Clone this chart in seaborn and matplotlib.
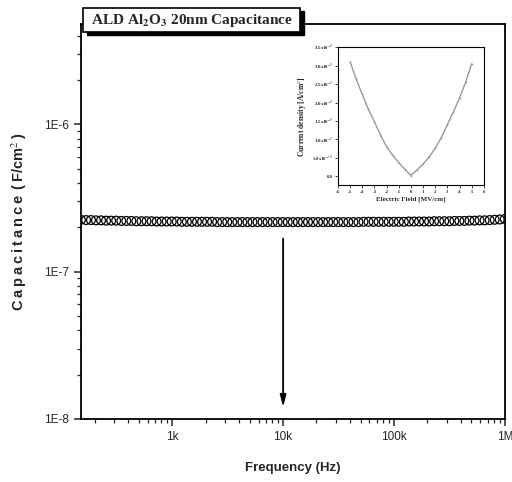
import matplotlib
matplotlib.use("Agg")
import matplotlib.pyplot as plt
import pandas as pd
import seaborn as sns
from matplotlib.patches import Rectangle

# C-f sweep (Hz, capacitance in 1e-7 F/cm^2)
freq_hz = [
    150, 167, 185, 205, 228, 253, 281, 312, 347, 385, 428, 475, 528, 586,
    651, 723, 802, 891, 989, 1099, 1220, 1355, 1505, 1671, 1856, 2061, 2288,
    2541, 2822, 3134, 3480, 3865, 4292, 4766, 5293, 5877, 6527, 7248, 8049,
    8938, 9926, 11020, 12240, 13590, 15100, 16760, 18620, 20670, 22960,
    25500, 28310, 31440, 34920, 38770, 43060, 47820, 53100, 58970, 65480,
    72720, 80760, 89680, 99590, 110600, 122800, 136400, 151500, 168200,
    186800, 207400, 230300, 255800, 284000, 315400, 350300, 389000, 432000,
    479700, 532700, 591600, 657000, 729600, 810200, 899700, 999100,
]
cap_e7 = [
    2.25, 2.24, 2.24, 2.23, 2.23, 2.22, 2.22, 2.22, 2.21, 2.21, 2.21, 2.20,
    2.20, 2.20, 2.20, 2.19, 2.19, 2.19, 2.19, 2.19, 2.18, 2.18, 2.18, 2.18,
    2.18, 2.18, 2.18, 2.17, 2.17, 2.17, 2.17, 2.17, 2.17, 2.17, 2.17, 2.17,
    2.17, 2.17, 2.17, 2.17, 2.17, 2.17, 2.17, 2.17, 2.17, 2.17, 2.17, 2.17,
    2.17, 2.17, 2.17, 2.17, 2.17, 2.17, 2.17, 2.17, 2.18, 2.18, 2.18, 2.18,
    2.18, 2.18, 2.18, 2.18, 2.18, 2.19, 2.19, 2.19, 2.19, 2.19, 2.20, 2.20,
    2.20, 2.20, 2.21, 2.21, 2.21, 2.22, 2.22, 2.23, 2.23, 2.24, 2.25, 2.26,
    2.28,
]
freq_ticks = [1e3, 1e4, 1e5, 1e6]
freq_labels = ["1k", "10k", "100k", "1M"]
cap_ticks = [1e-8, 1e-7, 1e-6]
cap_labels = ["1E-8", "1E-7", "1E-6"]
arrow_freq = 1e4
arrow_from = 1.75e-7
arrow_to = 1.15e-8

# inset J-E curve (MV/cm, current density in 1e-9 A/cm^2)
field = [-5.0, -4.5, -4.0, -3.5, -3.0, -2.5, -2.0, -1.5, -1.0, -0.5, 0.0,
         0.5, 1.0, 1.5, 2.0, 2.5, 3.0, 3.5, 4.0, 4.5, 5.0]
jdens_e9 = [3.10, 2.64, 2.22, 1.82, 1.48, 1.12, 0.80, 0.57, 0.37, 0.19, 0.02,
            0.17, 0.33, 0.52, 0.76, 1.05, 1.40, 1.75, 2.12, 2.55, 3.05]
field_ticks = [-6, -5, -4, -3, -2, -1, 0, 1, 2, 3, 4, 5, 6]
jdens_ticks = [0.0, 0.5, 1.0, 1.5, 2.0, 2.5, 3.0, 3.5]
jdens_labels = ["0.0", r"5.0x10$^{-10}$", r"1.0x10$^{-9}$", r"1.5x10$^{-9}$",
                r"2.0x10$^{-9}$", r"2.5x10$^{-9}$", r"3.0x10$^{-9}$",
                r"3.5x10$^{-9}$"]

sns.set_style("ticks")
plt.rcParams["font.family"] = ["Liberation Sans", "DejaVu Sans"]
plt.rcParams["mathtext.fontset"] = "stix"

fig = plt.figure(figsize=(5.12, 4.82), dpi=100)
ax = fig.add_axes([0.158, 0.131, 0.828, 0.819])

df = pd.DataFrame({"freq": freq_hz, "cap": [c * 1e-7 for c in cap_e7]})
sns.scatterplot(data=df, x="freq", y="cap", ax=ax, marker="o", s=40,
                facecolor="none", edgecolor="black", linewidth=0.9,
                legend=False, zorder=3)
ax.set_xscale("log")
ax.set_yscale("log")
ax.set_xlim(150, 1e6)
ax.set_ylim(1e-8, 4.8e-6)
ax.set_xticks(freq_ticks)
ax.set_xticklabels(freq_labels)
ax.set_yticks(cap_ticks)
ax.set_yticklabels(cap_labels)
ax.tick_params(which="major", length=5, width=1.1, labelsize=8.5)
ax.tick_params(which="minor", length=3, width=0.9)
for sp in ax.spines.values():
    sp.set_linewidth(1.3)
    sp.set_color("black")

ax.annotate("", xy=(arrow_freq, arrow_to), xytext=(arrow_freq, arrow_from),
            arrowprops=dict(arrowstyle="-|>,head_width=0.18,head_length=0.7",
                            color="black", lw=1.3))

ax.set_xlabel("Frequency (Hz)", fontsize=9.5, fontweight="bold", labelpad=14)
ylab = "\u2009".join("Capacitance") + "\u2009\u2009(\u2009F/cm$^{2}$\u2009)"
ax.set_ylabel(ylab, fontsize=10.5, fontweight="bold", labelpad=11)

# title box with drop shadow
fig.add_artist(Rectangle((0.170, 0.927), 0.424, 0.050, transform=fig.transFigure,
                         facecolor="black", edgecolor="black", zorder=5))
fig.add_artist(Rectangle((0.162, 0.934), 0.424, 0.050, transform=fig.transFigure,
                         facecolor="white", edgecolor="black", lw=1.2, zorder=6))
fig.text(0.374, 0.957, r"ALD Al$_{\mathbf{2}}$O$_{\mathbf{3}}$ 20nm Capacitance",
         ha="center", va="center", fontsize=11, fontweight="bold",
         family="Liberation Serif", zorder=7)

# inset
axi = fig.add_axes([0.660, 0.616, 0.285, 0.286])
sns.lineplot(x=field, y=jdens_e9, ax=axi, color="0.6", lw=1.0,
             marker=".", markersize=2.5, markeredgewidth=0)
axi.set_xlim(-6, 6)
axi.set_ylim(-0.24, 3.5)
axi.set_xticks(field_ticks)
axi.set_xticklabels([str(t) for t in field_ticks])
axi.set_yticks(jdens_ticks)
axi.set_yticklabels(jdens_labels)
axi.tick_params(length=2, width=0.6, labelsize=3.5, pad=1.5)
for lab in axi.get_xticklabels() + axi.get_yticklabels():
    lab.set_family("Liberation Serif")
    lab.set_fontweight("bold")
for sp in axi.spines.values():
    sp.set_linewidth(0.8)
    sp.set_color("black")
axi.set_xlabel("Electric Field [MV/cm]", fontsize=5, fontweight="bold",
               family="Liberation Serif", labelpad=1.5)
axi.set_ylabel("Current density [A/cm$^{2}$]", fontsize=5.5,
               fontweight="bold", family="Liberation Serif", labelpad=2)

fig.savefig("out.png", dpi=100)
